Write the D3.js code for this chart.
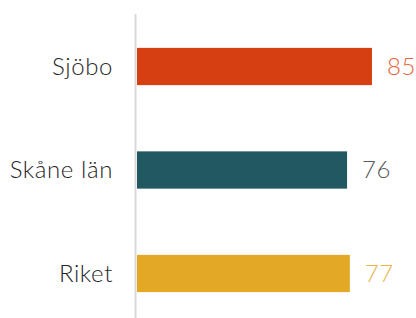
<!DOCTYPE html>
<html>
<head>
<meta charset="utf-8">
<script src="https://cdn.jsdelivr.net/npm/d3@7"></script>
<style>
  body { margin: 0; background: #fff; }
  svg { display: block; }
</style>
</head>
<body>
<svg id="chart"></svg>
<script>
// data
var categories = ["Sjöbo", "Skåne län", "Riket"];
var values = [85, 76, 77];
var barColors = ["#D63F11", "#215861", "#E3A826"];
var labelColors = ["#E5643E", "#595959", "#EBB54E"];

var width = 416;
var height = 318;
var x0 = 137;

const svg = d3.select("#chart").attr("width", width).attr("height", height);

var x = d3.scaleLinear().domain([0, 100]).range([x0, x0 + 276.4]);
var y = d3.scaleBand().domain(categories).range([14.75, 325.25])
    .paddingInner(0.64).paddingOuter(0.32);

// bars
svg.append("g")
    .selectAll("rect")
    .data(categories)
    .enter()
    .append("rect")
    .attr("x", x(0))
    .attr("y", function(d){ return y(d); })
    .attr("width", function(d, i){ return x(values[i]) - x(0); })
    .attr("height", y.bandwidth())
    .attr("fill", function(d, i){ return barColors[i]; });

// axis line
svg.append("line")
    .attr("x1", 135.5).attr("x2", 135.5)
    .attr("y1", 14).attr("y2", height)
    .attr("stroke", "#D9D9D9")
    .attr("stroke-width", 2);

// category labels
svg.append("g")
    .selectAll("text")
    .data(categories)
    .enter()
    .append("text")
    .attr("x", 113)
    .attr("y", function(d){ return y(d) + y.bandwidth() / 2; })
    .attr("dy", "0.35em")
    .attr("text-anchor", "end")
    .style("font-family", "Lato")
    .style("font-weight", 300)
    .style("font-size", "24px")
    .style("letter-spacing", "0.6px")
    .style("fill", "#262626")
    .text(function(d){ return d; });

// value labels
svg.append("g")
    .selectAll("text")
    .data(values)
    .enter()
    .append("text")
    .attr("x", function(d){ return x(d) + 15; })
    .attr("y", function(d, i){ return y(categories[i]) + y.bandwidth() / 2; })
    .attr("dy", "0.35em")
    .style("font-family", "Lato")
    .style("font-weight", 300)
    .style("font-size", "24px")
    .style("letter-spacing", "0.6px")
    .style("fill", function(d, i){ return labelColors[i]; })
    .text(function(d){ return d; });
</script>
</body>
</html>
